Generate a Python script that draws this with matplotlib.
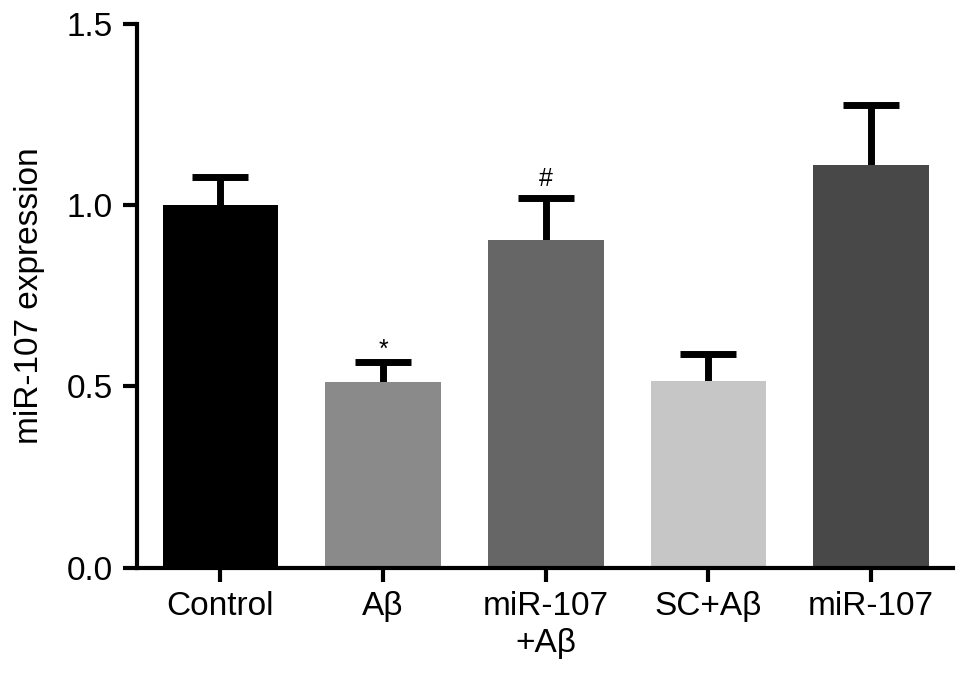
import matplotlib
matplotlib.use("Agg")
import matplotlib.pyplot as plt
import numpy as np

plt.rcParams['font.family'] = ['Liberation Sans', 'DejaVu Sans']

groups = ['Control', 'A\u03b2', 'miR-107\n+A\u03b2', 'SC+A\u03b2', 'miR-107']
means = [1.00, 0.512, 0.905, 0.515, 1.11]
errs = [0.078, 0.056, 0.115, 0.075, 0.165]
marks = ['', '*', '#', '', '']
colors = ['#000000', '#8a8a8a', '#666666', '#c6c6c6', '#484848']

fig = plt.figure(figsize=(9.69, 6.8), dpi=100)
ax = fig.add_axes([0.141, 0.165, 0.842, 0.80])

x = np.arange(len(groups))
ax.bar(x, means, width=0.71, color=colors, zorder=2)
eb = ax.errorbar(x, means, yerr=[np.zeros(len(errs)), errs], fmt='none',
                 ecolor='black', elinewidth=5, capsize=20, capthick=5, zorder=1)
# only the upper cap is shown
eb[1][0].set_visible(False)

# '*' sits high in its line box, '#' does not
lift = {'*': 0.034, '#': 0.052}
for xi, m, e, s in zip(x, means, errs, marks):
    if s:
        ax.text(xi, m + e + lift[s], s, ha='center', va='center', fontsize=18)

ax.set_xlim(-0.515, 4.5)
ax.set_ylim(0, 1.5)
ax.set_yticks([0.0, 0.5, 1.0, 1.5])
ax.set_yticklabels(['0.0', '0.5', '1.0', '1.5'])
ax.set_xticks(x)
ax.set_xticklabels(groups, linespacing=1.25)
ax.set_ylabel('miR-107 expression', fontsize=24, labelpad=16)

for side in ['top', 'right']:
    ax.spines[side].set_visible(False)
for side in ['left', 'bottom']:
    ax.spines[side].set_linewidth(3)

ax.tick_params(axis='y', length=10, width=3, labelsize=24, pad=7)
ax.tick_params(axis='x', length=10, width=3, labelsize=24, pad=7)

fig.savefig('out.png', dpi=100)
